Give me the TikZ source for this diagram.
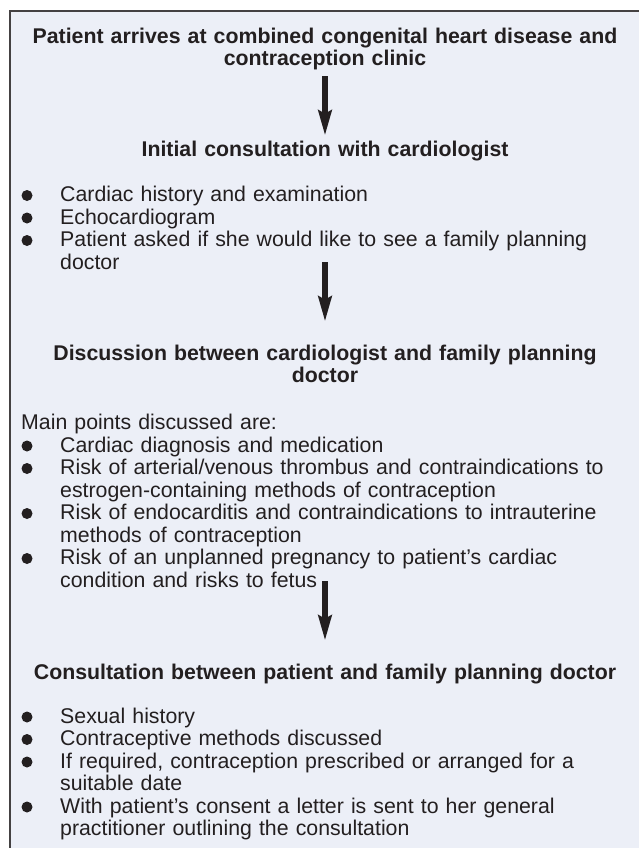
\documentclass[tikz,border=0pt]{standalone}
\usepackage{fontspec}
\setmainfont{Liberation Sans}
\usetikzlibrary{arrows.meta}
\definecolor{ink}{HTML}{231F20}
\definecolor{panel}{HTML}{ECEFF7}
\tikzset{
  head/.style={anchor=base, inner sep=0pt, text width=600pt, align=center,
    font=\fontsize{21.3}{22.5}\selectfont\bfseries, text=ink},
  item/.style={anchor=base west, inner sep=0pt, text width=570pt, align=left,
    font=\fontsize{21.3}{22.5}\selectfont, text=ink},
  flow/.style={ink, line width=5.5pt, -{Stealth[length=25pt,width=13pt,inset=3pt]}},
}
\begin{document}
\begin{tikzpicture}[x=1pt,y=-1pt]
      \useasboundingbox (0,0) rectangle (639,848);
      \fill[panel] (10,11) rectangle (639,848);
      \draw[ink!85, line width=1.2pt] (10,848) -- (10,11) -- (639,11);
      \draw
        (325,43.5) node[head] (title){Patient arrives at combined congenital heart disease and\\contraception clinic}
        (325,157) node[head] (cardio){Initial consultation with cardiologist}
        (60,201.5) node[item] (hist){Cardiac history and examination}
        (60,224) node[item] (echo){Echocardiogram}
        (60,246.5) node[item] (askfp){Patient asked if she would like to see a family planning\\doctor}
        (325,360) node[head] (disc){Discussion between cardiologist and family planning\\doctor}
        (21,429.5) node[item] (mainpts){Main points discussed are:}
        (60,452) node[item] (diag){Cardiac diagnosis and medication}
        (60,474.5) node[item] (thromb){Risk of arterial/venous thrombus and contraindications to\\estrogen-containing methods of contraception}
        (60,519.5) node[item] (endo){Risk of endocarditis and contraindications to intrauterine\\methods of contraception}
        (60,564.5) node[item] (preg){Risk of an unplanned pregnancy to patient’s cardiac\\condition and risks to fetus}
        (325,679) node[head] (consult){Consultation between patient and family planning doctor}
        (60,723) node[item] (sexhist){Sexual history}
        (60,745.5) node[item] (methods){Contraceptive methods discussed}
        (60,768) node[item] (presc){If required, contraception prescribed or arranged for a\\suitable date}
        (60,813) node[item] (letter){With patient’s consent a letter is sent to her general\\practitioner outlining the consultation};
      \foreach \n in {hist,echo,askfp,diag,thromb,endo,preg,sexhist,methods,presc,letter}
        \fill[ink] (\n.base west) ++(-33,-6) circle[radius=5.5pt];
      \begin{scope}[flow]
        \draw[shorten <=5.6pt, shorten >=5.7pt] (title) to (cardio);
        \draw[shorten <=-7pt, shorten >=22.7pt] (disc.north |- askfp.south) to (disc);
        \draw[shorten <=-6pt, shorten >=22.7pt] (consult.north |- preg.south) to (consult);
      \end{scope}
    \end{tikzpicture}
\end{document}
